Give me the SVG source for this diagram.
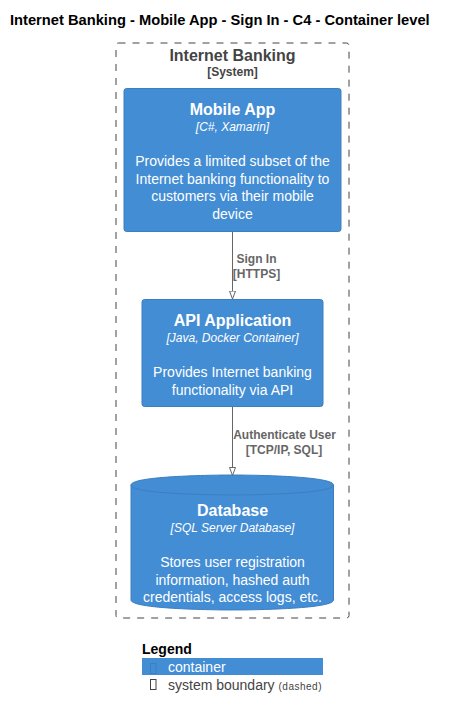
<svg xmlns="http://www.w3.org/2000/svg" width="449" height="718" viewBox="0 0 449 718">
<style>
text{font-family:"Liberation Sans",Arial,sans-serif}
.title{font-size:14.7px;font-weight:bold;fill:#000}
.bname{font-size:16px;font-weight:bold;fill:#444444}
.btype{font-size:12px;font-weight:bold;fill:#444444}
.box{fill:#438DD5;stroke:#3C7FC0;stroke-width:1}
.name{font-size:16px;font-weight:bold;fill:#FFFFFF}
.tech{font-size:12px;font-style:italic;fill:#FFFFFF}
.desc{font-size:14px;fill:#FFFFFF}
.lbl{font-size:12px;font-weight:bold;fill:#666666}
.conn{stroke:#666666;stroke-width:1;fill:none}
.c{text-anchor:middle}
</style>
<defs>
<marker id="arr" markerWidth="10" markerHeight="8" refX="8.5" refY="3.5" orient="auto" markerUnits="userSpaceOnUse" viewBox="0 0 10 7">
<path d="M0.5,0.5 L8.5,3.5 L0.5,6.5 Z" fill="#FFFFFF" stroke="#666666" stroke-width="1"/>
</marker>
</defs>
<rect width="449" height="718" fill="#FFFFFF"/>
<text class="title" x="10" y="25">Internet Banking - Mobile App - Sign In - C4 - Container level</text>

<g id="boundary">
<rect x="116" y="43" width="233" height="575" rx="2.5" fill="none" stroke="#444444" stroke-width="1" stroke-dasharray="7,7"/>
<text class="bname c" x="232.5" y="61">Internet Banking</text>
<text class="btype c" x="232.5" y="76">[System]</text>
</g>

<g id="mobile-app">
<rect class="box" x="124" y="88.5" width="217" height="143" rx="2.5"/>
<text class="name c" x="232.5" y="115">Mobile App</text>
<text class="tech c" x="232.5" y="130.5">[C#, Xamarin]</text>
<text class="desc c" x="232.5" y="166">Provides a limited subset of the</text>
<text class="desc c" x="232.5" y="184">Internet banking functionality to</text>
<text class="desc c" x="232.5" y="201">customers via their mobile</text>
<text class="desc c" x="232.5" y="219">device</text>
</g>

<g id="api-application">
<rect class="box" x="142" y="299.5" width="181" height="107" rx="2.5"/>
<text class="name c" x="232.5" y="326">API Application</text>
<text class="tech c" x="232.5" y="341.5">[Java, Docker Container]</text>
<text class="desc c" x="232.5" y="377">Provides Internet banking</text>
<text class="desc c" x="232.5" y="395">functionality via API</text>
</g>

<g id="database">
<path class="box" d="M131,485 C131,475 232.3,475 232.3,475 C232.3,475 333.5,475 333.5,485 L333.5,600 C333.5,610 232.3,610 232.3,610 C232.3,610 131,610 131,600 Z"/>
<path d="M131,485 C131,495 232.3,495 232.3,495 C232.3,495 333.5,495 333.5,485" fill="none" stroke="#3C7FC0" stroke-width="1"/>
<text class="name c" x="232.5" y="516">Database</text>
<text class="tech c" x="232.5" y="531.5">[SQL Server Database]</text>
<text class="desc c" x="232.5" y="567">Stores user registration</text>
<text class="desc c" x="232.5" y="584.5">information, hashed auth</text>
<text class="desc c" x="232.5" y="601.5">credentials, access logs, etc.</text>
</g>

<g id="connectors">
<line class="conn" x1="232.5" y1="232" x2="232.5" y2="299" marker-end="url(#arr)"/>
<text class="lbl c" x="256.5" y="263">Sign In</text>
<text class="lbl c" x="256.5" y="277.5">[HTTPS]</text>
<line class="conn" x1="232.5" y1="407" x2="232.5" y2="475.5" marker-end="url(#arr)"/>
<text class="lbl c" x="284.5" y="439">Authenticate User</text>
<text class="lbl c" x="284" y="453.5">[TCP/IP, SQL]</text>
</g>

<g id="legend">
<text x="142" y="653.5" font-size="14" font-weight="bold" fill="#000000">Legend</text>
<rect x="142" y="658" width="181" height="17" fill="#438DD5"/>
<rect x="150.5" y="663.5" width="5.5" height="10" fill="none" stroke="#3C7FC0" stroke-width="1"/>
<text x="168" y="671.5" font-size="14" fill="#FFFFFF">container</text>
<rect x="150.5" y="679.5" width="5.5" height="10" fill="none" stroke="#444444" stroke-width="1"/>
<text x="168" y="689.5" font-size="14" fill="#444444">system boundary <tspan font-size="10" letter-spacing="0.5">(dashed)</tspan></text>
</g>
</svg>
